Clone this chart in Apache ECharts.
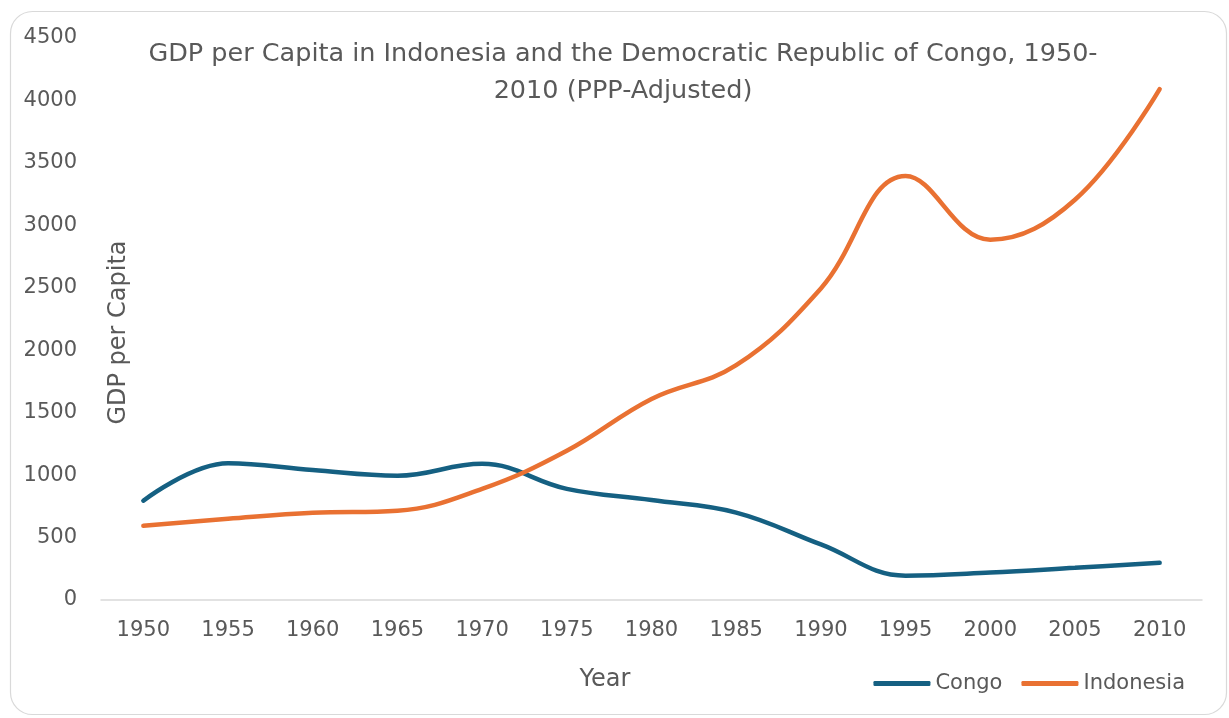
<!DOCTYPE html>
<html>
<head>
<meta charset="utf-8">
<script src="https://cdn.jsdelivr.net/npm/echarts@6/dist/echarts.min.js"></script>
<style>
html,body{margin:0;padding:0;background:#fff;}
#c{width:1229px;height:718px;}
</style>
</head>
<body>
<div id="c"></div>
<script>
const years = ['1950','1955','1960','1965','1970','1975','1980','1985','1990','1995','2000','2005','2010'];
const congo = [795, 1095, 1040, 995, 1090, 890, 800, 700, 445, 195, 220, 258, 298];
const indonesia = [595, 650, 698, 715, 890, 1195, 1610, 1880, 2495, 3395, 2885, 3205, 4090];
const yTicks = [0, 500, 1000, 1500, 2000, 2500, 3000, 3500, 4000, 4500];

const FONT = '"DejaVu Sans", sans-serif';
const TXT = '#595959';
const chart = echarts.init(document.getElementById('c'), null, {renderer: 'canvas'});
chart.setOption({
  backgroundColor: '#ffffff',
  animation: false,
  graphic: [{
    type: 'rect', z: -10, silent: true,
    shape: {x: 10.5, y: 11.5, width: 1216, height: 703, r: 22},
    style: {fill: '#ffffff', stroke: '#d9d9d9', lineWidth: 1.2}
  }],
  title: {
    text: 'GDP per Capita in Indonesia and the Democratic Republic of Congo, 1950-\n2010 (PPP-Adjusted)',
    left: 618, top: 31, textAlign: 'center',
    textStyle: {fontFamily: FONT, fontSize: 25.5, fontWeight: 'normal', color: TXT, lineHeight: 37}
  },
  legend: {
    right: 39, top: 668,
    itemWidth: 57, itemHeight: 5, itemGap: 19,
    icon: 'roundRect',
    textStyle: {fontFamily: FONT, fontSize: 21, color: TXT},
    data: ['Congo', 'Indonesia']
  },
  grid: {left: 101, right: 27, top: 38, bottom: 118, containLabel: false, outerBoundsMode: 'none'},
  xAxis: {
    type: 'category', data: years, boundaryGap: true,
    name: 'Year', nameLocation: 'middle', nameGap: 68, nameMoveOverlap: false,
    nameTextStyle: {fontFamily: FONT, fontSize: 24, color: TXT, padding: [0, 93, 0, 0]},
    axisLine: {lineStyle: {color: '#d9d9d9', width: 1.5}},
    axisTick: {show: false},
    axisLabel: {fontFamily: FONT, fontSize: 21, color: TXT, margin: 20}
  },
  yAxis: {
    type: 'value', min: 0, max: 4500, interval: 500,
    name: 'GDP per Capita', nameLocation: 'middle', nameGap: -30, nameRotate: 90, nameMoveOverlap: false,
    nameTextStyle: {fontFamily: FONT, fontSize: 24, color: TXT, padding: [0, 27, 0, 0]},
    axisLine: {show: false}, axisTick: {show: false},
    splitLine: {show: false},
    axisLabel: {fontFamily: FONT, fontSize: 21, color: TXT, margin: 24,
      formatter: v => yTicks.includes(v) ? String(v) : ''}
  },
  series: [
    {name: 'Congo', type: 'line', data: congo, smooth: 0.4, showSymbol: false, symbol: 'none',
     color: '#156082', lineStyle: {width: 4.5, cap: 'round', color: '#156082'}},
    {name: 'Indonesia', type: 'line', data: indonesia, smooth: 0.4, showSymbol: false, symbol: 'none',
     color: '#E97132', lineStyle: {width: 4.5, cap: 'round', color: '#E97132'}}
  ]
});
</script>
</body>
</html>
